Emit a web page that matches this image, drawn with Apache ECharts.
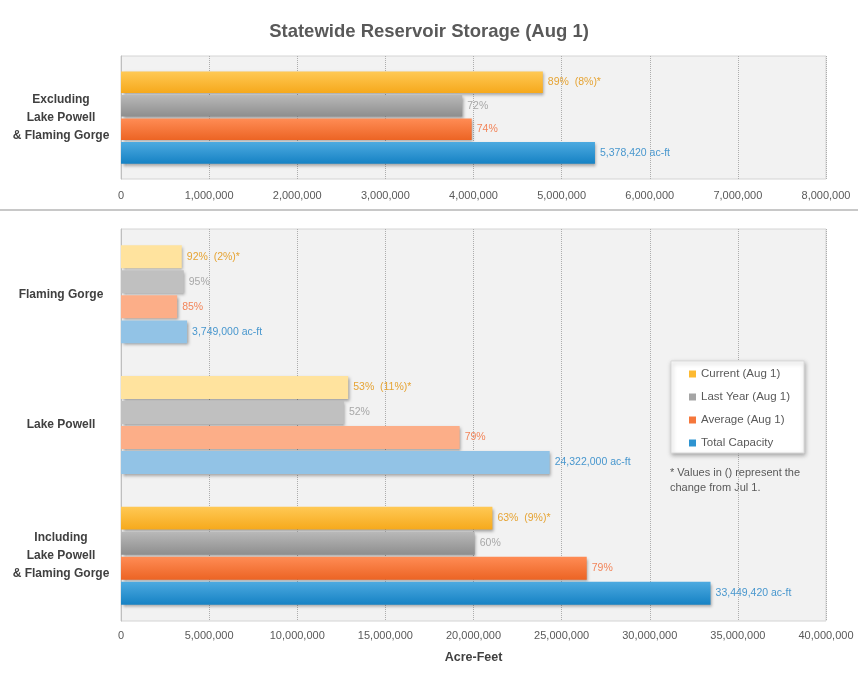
<!DOCTYPE html>
<html>
<head>
<meta charset="utf-8">
<title>Statewide Reservoir Storage (Aug 1)</title>
<script src="https://cdn.jsdelivr.net/npm/echarts@6/dist/echarts.min.js"></script>
<style>
  html, body { margin: 0; padding: 0; background: #fff; }
  #main { width: 858px; height: 678px; }
</style>
</head>
<body>
<div id="main"></div>
<script>
// series names (legend order)
var seriesNames = ['Current (Aug 1)', 'Last Year (Aug 1)', 'Average (Aug 1)', 'Total Capacity'];

// top panel: excluding Lake Powell & Flaming Gorge
var topCategories = ['Excluding\nLake Powell\n& Flaming Gorge'];
var topCurrent = [4787000];
var topLastYear = [3872000];
var topAverage = [3980000];
var topCapacity = [5378420];
var topCurrentLabels = ['89%  (8%)*'];
var topLastYearLabels = ['72%'];
var topAverageLabels = ['74%'];
var topCapacityLabels = ['5,378,420 ac-ft'];

// bottom panel
var bottomCategories = ['Flaming Gorge', 'Lake Powell', 'Including\nLake Powell\n& Flaming Gorge'];
var current = [3449000, 12891000, 21073000];
var lastYear = [3562000, 12647000, 20070000];
var average = [3187000, 19214000, 26425000];
var capacity = [3749000, 24322000, 33449420];
var currentLabels = ['92%  (2%)*', '53%  (11%)*', '63%  (9%)*'];
var lastYearLabels = ['95%', '52%', '60%'];
var averageLabels = ['85%', '79%', '79%'];
var capacityLabels = ['3,749,000 ac-ft', '24,322,000 ac-ft', '33,449,420 ac-ft'];

// which bottom categories are drawn in the pale shade
var paleRows = [true, true, false];

var FONT = "'Liberation Sans', Arial, sans-serif";

// colours: gradient top/bottom, pale flat colour, label colour
var strongTop = ['#FFC955', '#B9B9B9', '#FF8C55', '#4DAAE0'];
var strongBottom = ['#F6A91C', '#8E8E8E', '#EC6424', '#1682C4'];
var paleColors = ['#FFE39E', '#C0C0C0', '#FCAE88', '#92C3E6'];
var labelColors = ['#E6A434', '#A8A8A8', '#F2855A', '#4897CE'];
var legendColors = ['#FDBA32', '#A5A5A5', '#F5773B', '#2E94D1'];

function strongFill(i) {
  return new echarts.graphic.LinearGradient(0, 0, 0, 1, [
    { offset: 0, color: strongTop[i] },
    { offset: 1, color: strongBottom[i] }
  ]);
}

function makeItems(values, labels, i, pale) {
  return values.map(function (v, k) {
    return {
      value: v,
      label: { formatter: labels[k] },
      itemStyle: { color: pale && pale[k] ? paleColors[i] : strongFill(i) }
    };
  });
}

function makeSeries(i, values, labels, gridIndex, pale) {
  return {
    name: seriesNames[i],
    type: 'bar',
    xAxisIndex: gridIndex,
    yAxisIndex: gridIndex,
    barGap: '9%',
    barCategoryGap: '25%',
    data: makeItems(values, labels, i, pale),
    itemStyle: {
      shadowColor: 'rgba(0,0,0,0.35)',
      shadowBlur: 3,
      shadowOffsetX: 1.5,
      shadowOffsetY: 2
    },
    label: {
      show: true,
      position: 'right',
      distance: 5,
      color: labelColors[i],
      fontSize: 10.5,
      fontFamily: FONT
    },
    emphasis: { disabled: true }
  };
}

var chart = echarts.init(document.getElementById('main'));

var tickFmt = function (v) { return v.toLocaleString('en-US'); };

var option = {
  animation: false,
  textStyle: { fontFamily: FONT },
  color: legendColors,
  title: {
    text: 'Statewide Reservoir Storage (Aug 1)',
    left: 'center',
    top: 17,
    textStyle: { fontSize: 18.5, fontWeight: 'bold', color: '#595959', fontFamily: FONT }
  },
  legend: {
    orient: 'vertical',
    left: 671,
    top: 361,
    data: seriesNames,
    icon: 'rect',
    itemWidth: 7,
    itemHeight: 7,
    itemGap: 11,
    padding: [7, 14, 4, 18],
    backgroundColor: '#fff',
    borderColor: '#D9D9D9',
    borderWidth: 1,
    shadowColor: 'rgba(0,0,0,0.3)',
    shadowBlur: 4,
    shadowOffsetX: 1,
    shadowOffsetY: 2,
    selectedMode: false,
    textStyle: { fontSize: 11.5, color: '#595959', fontFamily: FONT }
  },
  grid: [
    { left: 121, right: 32, top: 56, height: 123, show: true, backgroundColor: '#F2F2F2', borderColor: '#D4D4D4', borderWidth: 1 },
    { left: 121, right: 32, top: 229, height: 392, show: true, backgroundColor: '#F2F2F2', borderColor: '#D4D4D4', borderWidth: 1 }
  ],
  xAxis: [
    {
      gridIndex: 0, type: 'value', min: 0, max: 8000000, interval: 1000000,
      axisLine: { show: false }, axisTick: { show: false },
      axisLabel: { margin: 11, fontSize: 11, color: '#595959', formatter: tickFmt },
      splitLine: { lineStyle: { type: 'dotted', color: '#ADADAD' } }
    },
    {
      gridIndex: 1, type: 'value', min: 0, max: 40000000, interval: 5000000,
      axisLine: { show: false }, axisTick: { show: false },
      axisLabel: { margin: 9, fontSize: 11, color: '#595959', formatter: tickFmt },
      splitLine: { lineStyle: { type: 'dotted', color: '#ADADAD' } },
      name: 'Acre-Feet',
      nameLocation: 'middle',
      nameGap: 30,
      nameTextStyle: { fontSize: 12.5, fontWeight: 'bold', color: '#404040', fontFamily: FONT }
    }
  ],
  yAxis: [
    {
      gridIndex: 0, type: 'category', data: topCategories, inverse: true,
      axisLine: { show: true, lineStyle: { color: '#BFBFBF' } },
      axisTick: { show: false },
      axisLabel: { margin: 60, align: 'center', fontSize: 12, fontWeight: 'bold', color: '#404040', lineHeight: 18 }
    },
    {
      gridIndex: 1, type: 'category', data: bottomCategories, inverse: true,
      axisLine: { show: true, lineStyle: { color: '#BFBFBF' } },
      axisTick: { show: false },
      axisLabel: { margin: 60, align: 'center', fontSize: 12, fontWeight: 'bold', color: '#404040', lineHeight: 18 }
    }
  ],
  graphic: [
    {
      type: 'line',
      shape: { x1: 0, y1: 210, x2: 858, y2: 210 },
      style: { stroke: '#C8C8C8', lineWidth: 2 }
    },
    {
      type: 'text',
      left: 670,
      top: 465,
      style: {
        text: '* Values in () represent the\nchange from Jul 1.',
        font: '11px ' + FONT,
        fill: '#595959',
        lineHeight: 15
      }
    }
  ],
  series: [
    makeSeries(0, topCurrent, topCurrentLabels, 0, null),
    makeSeries(1, topLastYear, topLastYearLabels, 0, null),
    makeSeries(2, topAverage, topAverageLabels, 0, null),
    makeSeries(3, topCapacity, topCapacityLabels, 0, null),
    makeSeries(0, current, currentLabels, 1, paleRows),
    makeSeries(1, lastYear, lastYearLabels, 1, paleRows),
    makeSeries(2, average, averageLabels, 1, paleRows),
    makeSeries(3, capacity, capacityLabels, 1, paleRows)
  ]
};

chart.setOption(option);
</script>
</body>
</html>
